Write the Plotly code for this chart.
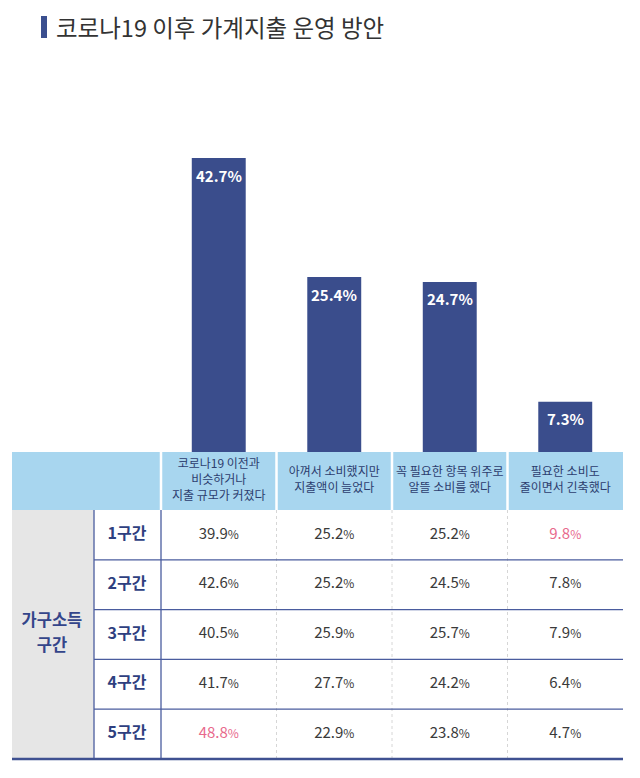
import plotly.graph_objects as go

# ---------------- data ----------------
title_text = "코로나19 이후 가계지출 운영 방안"
categories = [
    "코로나19 이전과<br>비슷하거나<br>지출 규모가 커졌다",
    "아껴서 소비했지만<br>지출액이 늘었다",
    "꼭 필요한 항목 위주로<br>알뜰 소비를 했다",
    "필요한 소비도<br>줄이면서 긴축했다",
]
overall = [42.7, 25.4, 24.7, 7.3]
group_label_lines = ["가구소득", "구간"]
brackets = ["1구간", "2구간", "3구간", "4구간", "5구간"]
col1 = [39.9, 42.6, 40.5, 41.7, 48.8]
col2 = [25.2, 25.2, 25.9, 27.7, 22.9]
col3 = [25.2, 24.5, 25.7, 24.2, 23.8]
col4 = [9.8, 7.8, 7.9, 6.4, 4.7]
highlights = [(0, 3), (4, 0)]  # (row, column) shown in pink

# ---------------- style / layout constants ----------------
W, H = 640, 778
FONT = "Noto Sans CJK KR"
NAVY = "#3a4d8c"
LINE_BLUE = "#4a5c9e"
HEAD_BG = "#a8d6ef"
GRAY_BG = "#e6e6e6"
TEXT = "#3a3a3a"
PINK = "#e8698c"
HEAD_TEXT = "#2c3d6e"

X_LEFT = -1.79      # left edge of table (data units of x)
X_SPLIT = -1.08     # border between group label cell and bracket cell
X_ROWLAB = -0.794
X_GROUP = -1.444
BAR_TOP_PX, BAR_BOT_PX = 140, 452
PX_PER_PCT = 6.885
U = 49.8            # px per table row
HEAD_PX = 58
Y2_TOP = -0.5 - HEAD_PX / U
Y2_BOT = 4.6
TABLE_BOT_PX = BAR_BOT_PX + (Y2_BOT - Y2_TOP) * U

fig = go.Figure()

# bars
fig.add_trace(go.Bar(
    x=list(range(len(overall))), y=overall, width=0.467,
    marker=dict(color=NAVY, line=dict(width=0)),
    hoverinfo="skip", xaxis="x", yaxis="y",
))

# table values
cols = [col1, col2, col3, col4]
xs, ys, txt, colors = [], [], [], []
for c, col in enumerate(cols):
    for r, v in enumerate(col):
        xs.append(c)
        ys.append(r)
        txt.append(f"{v:.1f}<span style='font-size:12px'>%</span>")
        colors.append(PINK if (r, c) in highlights else TEXT)
fig.add_trace(go.Scatter(
    x=xs, y=ys, text=txt, mode="text", textposition="middle center",
    textfont=dict(family=FONT, size=15, color=colors),
    hoverinfo="skip", xaxis="x", yaxis="y2", showlegend=False,
))

# header labels
fig.add_trace(go.Scatter(
    x=list(range(len(categories))), y=[(Y2_TOP - 0.5) / 2] * len(categories),
    text=categories, mode="text", textposition="middle center",
    textfont=dict(family=FONT, size=12, color=HEAD_TEXT),
    hoverinfo="skip", xaxis="x", yaxis="y2", showlegend=False,
))

# row labels
fig.add_trace(go.Scatter(
    x=[X_ROWLAB] * len(brackets), y=list(range(len(brackets))),
    text=brackets, mode="text", textposition="middle center",
    textfont=dict(family=FONT, size=16, color="#2e3f7f", weight="bold"),
    hoverinfo="skip", xaxis="x", yaxis="y2", showlegend=False,
))

# group label (two lines)
mid = (len(brackets) - 1) / 2
fig.add_trace(go.Scatter(
    x=[X_GROUP] * 2, y=[mid - 0.245, mid + 0.245], text=group_label_lines,
    mode="text", textposition="middle center",
    textfont=dict(family=FONT, size=16.5, color="#34458a", weight="bold"),
    hoverinfo="skip", xaxis="x", yaxis="y2", showlegend=False,
))

shapes = []
n = len(categories)
nr = len(brackets)
# header backgrounds
shapes.append(dict(type="rect", xref="x", yref="y2", x0=X_LEFT, x1=n - 0.5,
                   y0=Y2_TOP, y1=-0.5, fillcolor=HEAD_BG, line=dict(width=0), layer="below"))
# group label gray cell
shapes.append(dict(type="rect", xref="x", yref="y2", x0=X_LEFT, x1=X_SPLIT,
                   y0=-0.5, y1=nr - 0.5, fillcolor=GRAY_BG, line=dict(width=0), layer="below"))
# header white separators
for xb in [-0.5] + [i + 0.5 for i in range(n - 1)]:
    shapes.append(dict(type="line", xref="x", yref="y2", x0=xb, x1=xb,
                       y0=Y2_TOP, y1=-0.5, line=dict(color="white", width=2.5)))
# dotted separators in body
for xb in [i + 0.5 for i in range(n - 1)]:
    shapes.append(dict(type="line", xref="x", yref="y2", x0=xb, x1=xb,
                       y0=-0.5, y1=nr - 0.5, line=dict(color="#d6d6d6", width=1, dash="dot")))
# blue verticals
for xb in [X_SPLIT, -0.5]:
    shapes.append(dict(type="line", xref="x", yref="y2", x0=xb, x1=xb,
                       y0=-0.5, y1=nr - 0.5, line=dict(color=LINE_BLUE, width=1.3)))
# row separators
for r in range(nr - 1):
    shapes.append(dict(type="line", xref="x", yref="y2", x0=X_SPLIT, x1=n - 0.5,
                       y0=r + 0.5, y1=r + 0.5, line=dict(color=LINE_BLUE, width=1.3)))
# bottom rule
shapes.append(dict(type="line", xref="x", yref="y2", x0=X_LEFT, x1=n - 0.5,
                   y0=nr - 0.5, y1=nr - 0.5, line=dict(color="#3f5191", width=2.5)))
# title marker
shapes.append(dict(type="rect", xref="paper", yref="paper",
                   x0=41 / W, x1=47 / W, y0=1 - 38 / H, y1=1 - 16 / H,
                   fillcolor="#3b4f8f", line=dict(width=0)))

annotations = [dict(
    text=title_text, xref="paper", yref="paper", x=54 / W, y=1 - 27 / H,
    xanchor="left", yanchor="middle", showarrow=False,
    font=dict(family=FONT, size=23.5, color="#333333"),
)]
# value labels inside the bars
for i, v in enumerate(overall):
    annotations.append(dict(
        text=f"{v:.1f}%", xref="x", yref="y", x=i, y=v, yshift=-17,
        xanchor="center", yanchor="middle", showarrow=False,
        font=dict(family=FONT, size=15, color="white", weight="bold"),
    ))

fig.update_layout(
    width=W, height=H,
    margin=dict(l=0, r=0, t=0, b=0),
    paper_bgcolor="white", plot_bgcolor="white",
    showlegend=False,
    shapes=shapes,
    annotations=annotations,
    xaxis=dict(domain=[12 / W, 623 / W], range=[X_LEFT, n - 0.5], visible=False, fixedrange=True),
    yaxis=dict(domain=[1 - BAR_BOT_PX / H, 1 - BAR_TOP_PX / H],
               range=[0, (BAR_BOT_PX - BAR_TOP_PX) / PX_PER_PCT], visible=False, fixedrange=True),
    yaxis2=dict(domain=[1 - TABLE_BOT_PX / H, 1 - BAR_BOT_PX / H],
                range=[Y2_BOT, Y2_TOP], visible=False, fixedrange=True),
    font=dict(family=FONT),
)

fig.write_html("out.html", config={"displayModeBar": False},
               post_script="document.body.style.margin='0';document.body.style.overflow='hidden';")
